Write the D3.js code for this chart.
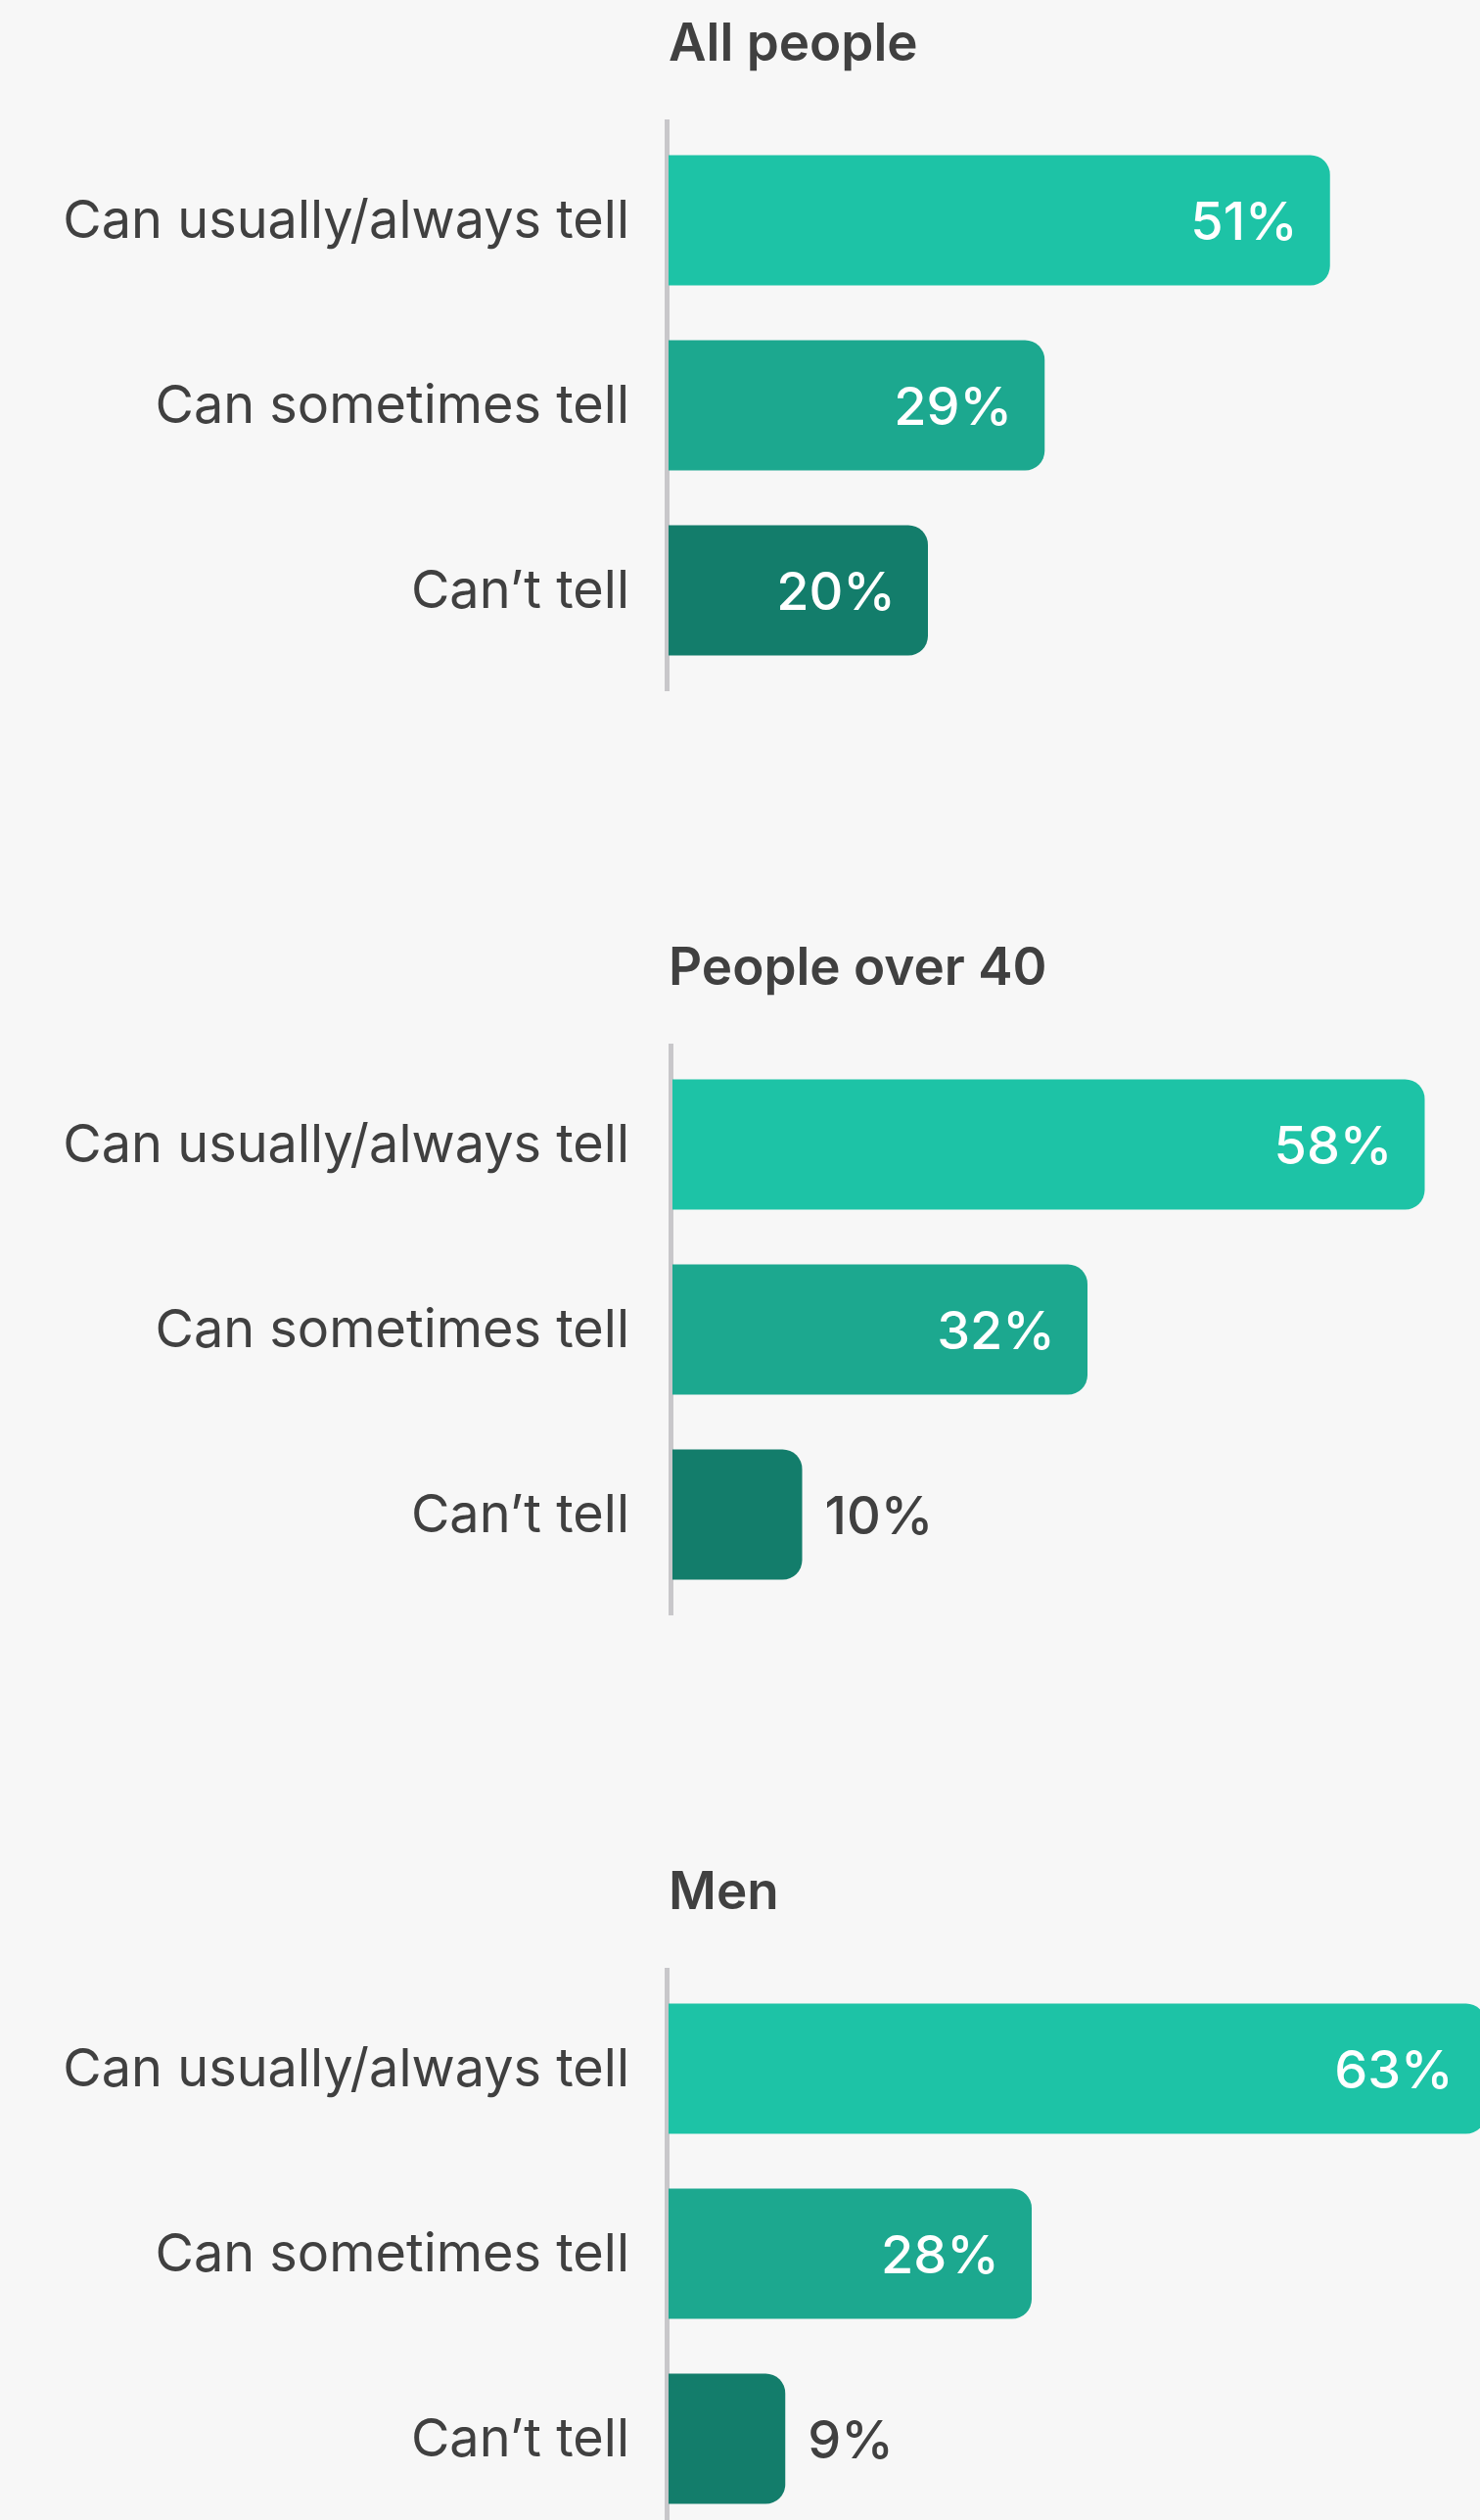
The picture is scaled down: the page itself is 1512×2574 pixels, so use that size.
<!DOCTYPE html>
<html>
<head>
<meta charset="utf-8">
<script src="https://cdn.jsdelivr.net/npm/d3@7"></script>
<style>
  html, body { margin: 0; padding: 0; background: #f7f7f7; }
  svg { display: block; }
</style>
</head>
<body>
<svg id="chart"></svg>
<script>
// Survey answers, one small-multiple panel per group
const groups = ["All people", "People over 40", "Men"];
const answers = ["Can usually/always tell", "Can sometimes tell", "Can’t tell"];
const allPeople = [51, 29, 20];
const over40 = [58, 32, 10];
const men = [63, 28, 9];
const seriesByGroup = [allPeople, over40, men];

const answerColors = ["#1dc3a6", "#1ca88f", "#137d6b"];

const W = 1512, H = 2574;
const panelTop = [122, 1066, 2010];   // top of each panel's plot area
const panelShift = [0, 4, 0];         // small horizontal nudge per panel
const plotLeft = 683;
const plotHeight = 584;
const radius = 20;
const font = "Inter, 'Liberation Sans', Arial, sans-serif";

const svg = d3.select("#chart").attr("width", W).attr("height", H);
svg.append("rect").attr("width", W).attr("height", H).attr("fill", "#f7f7f7");

const x = d3.scaleLinear().domain([0, 100]).range([0, 1325]);
const y = d3.scaleBand().domain(answers).range([0, plotHeight])
  .paddingInner(0.296).paddingOuter(0.193);

// bar with only the right-hand corners rounded
function barPath(w, h, r) {
  const rr = Math.min(r, w / 2, h / 2);
  return `M0,0H${w - rr}A${rr},${rr} 0 0 1 ${w},${rr}V${h - rr}A${rr},${rr} 0 0 1 ${w - rr},${h}H0Z`;
}

groups.forEach((g, gi) => {
  const values = seriesByGroup[gi];
  const rows = answers.map((a, i) => ({ answer: a, value: values[i], color: answerColors[i] }));
  const panel = svg.append("g").attr("transform", `translate(0,${panelTop[gi]})`);
  const plot = panel.append("g").attr("transform", `translate(${plotLeft + panelShift[gi]},0)`);

  // group title
  panel.append("text")
    .attr("x", plotLeft)
    .attr("y", -60)
    .attr("font-family", font)
    .attr("font-weight", 600)
    .attr("font-size", 53)
    .attr("fill", "#404040")
    .text(g);

  // baseline
  plot.append("rect")
    .attr("x", -4).attr("y", 0)
    .attr("width", 5).attr("height", plotHeight)
    .attr("fill", "#c8c7ca");

  // bars
  plot.selectAll("path.bar").data(rows).join("path")
    .attr("class", "bar")
    .attr("transform", d => `translate(0,${y(d.answer)})`)
    .attr("d", d => barPath(x(d.value), y.bandwidth(), radius))
    .attr("fill", d => d.color);

  // category labels
  panel.selectAll("text.cat").data(rows).join("text")
    .attr("class", "cat")
    .attr("x", 643)
    .attr("y", d => y(d.answer) + y.bandwidth() / 2 + 18)
    .attr("text-anchor", "end")
    .attr("font-family", font)
    .attr("font-weight", 400)
    .attr("font-size", 54)
    .attr("fill", "#404040")
    .text(d => d.answer);

  // value labels: inside the bar when there is room, otherwise just after it
  plot.selectAll("text.val").data(rows).join("text")
    .attr("class", "val")
    .each(function (d) {
      const inside = x(d.value) > 200;
      d3.select(this)
        .attr("x", inside ? x(d.value) - 33 : x(d.value) + 23)
        .attr("text-anchor", inside ? "end" : "start")
        .attr("fill", inside ? "#ffffff" : "#404040");
    })
    .attr("y", d => y(d.answer) + y.bandwidth() / 2 + 20)
    .attr("font-family", font)
    .attr("font-weight", 500)
    .attr("font-size", 54)
    .text(d => d.value + "%");
});
</script>
</body>
</html>
